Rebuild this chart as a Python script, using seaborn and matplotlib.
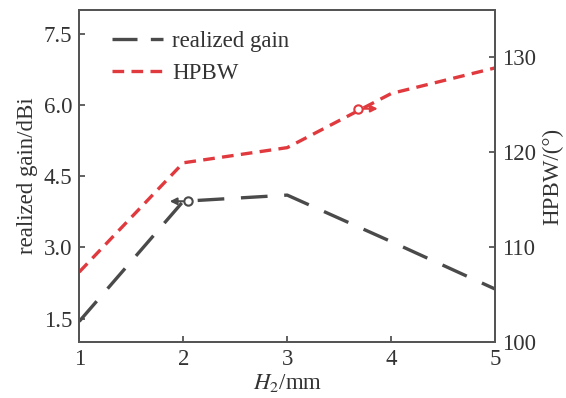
import matplotlib
matplotlib.use("Agg")
import matplotlib.pyplot as plt
import seaborn as sns
import pandas as pd

h2 = [1, 2, 3, 4, 5]
gain = [1.44, 3.97, 4.10, 3.12, 2.12]
hpbw = [107.4, 118.9, 120.5, 126.2, 128.9]

sns.set_theme(style="ticks")
plt.rcParams['font.family'] = ['Liberation Serif', 'DejaVu Serif']
plt.rcParams['mathtext.fontset'] = 'stix'
FS = 16.5

df = pd.DataFrame({"H2": h2, "gain": gain, "hpbw": hpbw})

fig, ax = plt.subplots(figsize=(5.66, 3.98), dpi=100)
fig.subplots_adjust(left=0.14, right=0.875, top=0.975, bottom=0.14)

gray = "#4a4a4a"
red = "#e0393e"

sns.lineplot(data=df, x="H2", y="gain", ax=ax, color=gray, lw=2.4,
             dashes=False, label="realized gain")
ax.lines[-1].set_dashes([8, 5])
ax2 = ax.twinx()
sns.lineplot(data=df, x="H2", y="hpbw", ax=ax2, color=red, lw=2.4, label="HPBW")
ax2.lines[-1].set_dashes([3.5, 2.2])

ax.set_xlim(1, 5)
ax.set_ylim(1.0, 8.0)
ax2.set_ylim(100, 135)
ax.set_xticks([1, 2, 3, 4, 5])
ax.set_yticks([1.5, 3.0, 4.5, 6.0, 7.5])
ax.set_yticklabels(["1.5", "3.0", "4.5", "6.0", "7.5"])
ax2.set_yticks([100, 110, 120, 130])

ax.set_xlabel("$H_2$/mm", fontsize=FS, labelpad=1, color="#333333")
ax.set_ylabel("realized gain/dBi", fontsize=FS, color="#333333", labelpad=4)
ax2.set_ylabel("HPBW/(°)", fontsize=FS, color="#333333", labelpad=4)

for a in (ax, ax2):
    a.tick_params(direction="in", labelsize=FS, length=4, width=1.3,
                  colors="#555555", labelcolor="#333333", pad=5)
    for s in a.spines.values():
        s.set_linewidth(1.4)
        s.set_color("#555555")

# annotation markers with arrows
ax.plot([2.05], [3.97], marker="o", ms=6, mfc="white", mec=gray, mew=1.5, zorder=6)
ax.annotate("", xy=(1.87, 3.97), xytext=(2.0, 3.97), zorder=7,
            arrowprops=dict(arrowstyle="-|>", color=gray, lw=1.5,
                            mutation_scale=10, shrinkA=0, shrinkB=0))
ax2.plot([3.68], [124.6], marker="o", ms=6, mfc="white", mec=red, mew=1.5, zorder=6)
ax2.annotate("", xy=(3.87, 124.6), xytext=(3.73, 124.6), zorder=7,
             arrowprops=dict(arrowstyle="-|>", color=red, lw=1.5,
                             mutation_scale=10, shrinkA=0, shrinkB=0))

h1, l1 = ax.get_legend_handles_labels()
h2_, l2 = ax2.get_legend_handles_labels()
if ax2.get_legend():
    ax2.get_legend().remove()
leg = ax.legend(h1 + h2_, l1 + l2, loc="upper left", frameon=False, fontsize=FS,
                handlelength=2.2, handletextpad=0.4, bbox_to_anchor=(0.03, 1.0),
                labelcolor="#333333")
leg.get_lines()[0].set_dashes([7.5, 4])

fig.savefig("out.png", dpi=100)
